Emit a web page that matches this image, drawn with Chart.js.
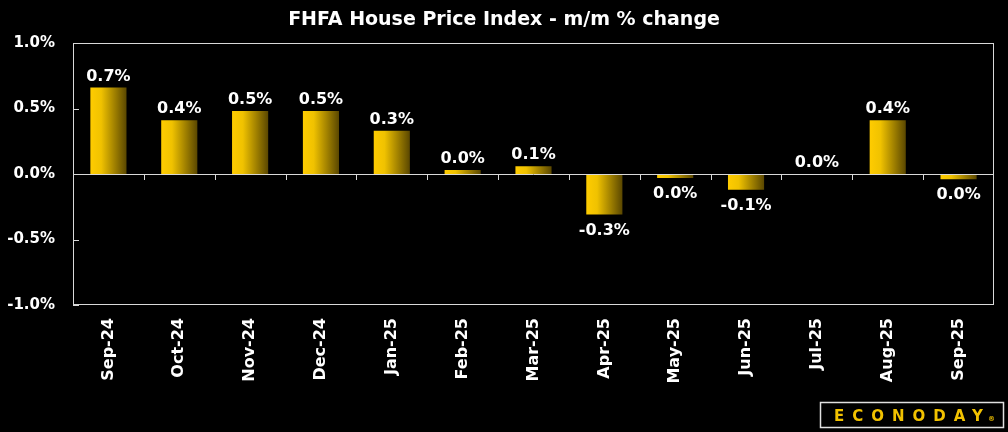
<!DOCTYPE html>
<html>
<head>
<meta charset="utf-8">
<script src="https://cdn.jsdelivr.net/npm/chart.js@4.4.1/dist/chart.umd.min.js"></script>
<style>
  html, body { margin: 0; padding: 0; background: #000; }
  #wrap { width: 1008px; height: 432px; }
</style>
</head>
<body>
<div id="wrap"><canvas id="chart" width="1008" height="432"></canvas></div>
<script>
const categories = ["Sep-24","Oct-24","Nov-24","Dec-24","Jan-25","Feb-25","Mar-25","Apr-25","May-25","Jun-25","Jul-25","Aug-25","Sep-25"];
const changes = [0.66, 0.41, 0.48, 0.48, 0.33, 0.03, 0.06, -0.31, -0.03, -0.12, 0.0, 0.41, -0.04];
const yTicks = [-1.0, -0.5, 0.0, 0.5, 1.0];
const title = "FHFA House Price Index - m/m % change";

const FONT = "'DejaVu Sans', sans-serif";

function pct(v){
  const s = v.toFixed(1);
  return (s === "-0.0" ? "0.0" : s) + "%";
}

// per-bar horizontal gold gradient, labels, inner tick marks, title, logo
const decor = {
  id: "decor",
  beforeDatasetsDraw(chart){
    const ctx = chart.ctx;
    chart.getDatasetMeta(0).data.forEach(bar => {
      const l = bar.x - bar.width/2, r = bar.x + bar.width/2;
      const g = ctx.createLinearGradient(l, 0, r, 0);
      g.addColorStop(0, "#ffcc00");
      g.addColorStop(0.3, "#f0c200");
      g.addColorStop(1, "#5a4700");
      bar.options.backgroundColor = g;
    });
  },
  afterDatasetsDraw(chart){
    const ctx = chart.ctx;
    const a = chart.chartArea;
    const x = chart.scales.x, y = chart.scales.y;
    const zero = y.getPixelForValue(0);
    ctx.save();
    // box + zero line
    ctx.strokeStyle = "#d9d9d9";
    ctx.lineWidth = 1;
    ctx.strokeRect(a.left + 0.5, a.top + 0.5, a.right - a.left - 1, a.bottom - a.top - 1);
    ctx.beginPath();
    ctx.moveTo(a.left, Math.round(zero) + 0.5);
    ctx.lineTo(a.right, Math.round(zero) + 0.5);
    // y tick marks inside plot
    yTicks.forEach(v => {
      const py = Math.round(y.getPixelForValue(v)) + 0.5;
      ctx.moveTo(a.left, py); ctx.lineTo(a.left + 6, py);
    });
    // category boundary ticks below zero line
    for (let i = 0; i < categories.length - 1; i++){
      const px = Math.round((x.getPixelForTick(i) + x.getPixelForTick(i+1)) / 2) + 0.5;
      ctx.moveTo(px, zero); ctx.lineTo(px, zero + 6);
    }
    ctx.stroke();

    // value labels
    ctx.fillStyle = "#ffffff";
    ctx.font = "bold 16px " + FONT;
    ctx.textAlign = "center";
    ctx.textBaseline = "alphabetic";
    chart.getDatasetMeta(0).data.forEach((bar, i) => {
      const v = changes[i];
      const ty = v >= 0 ? Math.min(bar.y, zero) - 7 : Math.max(bar.y, zero) + 20;
      ctx.fillText(pct(v), bar.x, ty);
    });

    // title
    ctx.font = "bold 19px " + FONT;
    ctx.fillText(title, chart.width / 2, 25);

    // logo
    ctx.strokeStyle = "#e0e0e0";
    ctx.lineWidth = 1.5;
    ctx.strokeRect(820.5, 402.5, 183, 25);
    ctx.fillStyle = "#f2c200";
    ctx.font = "bold 15px " + FONT;
    ctx.textAlign = "left";
    ctx.letterSpacing = "8px";
    ctx.fillText("ECONODAY", 834, 421);
    ctx.letterSpacing = "0px";
    ctx.font = "bold 7px " + FONT;
    ctx.fillText("®", 988, 421);
    ctx.restore();
  }
};

new Chart(document.getElementById("chart"), {
  type: "bar",
  data: {
    labels: categories,
    datasets: [{
      data: changes,
      backgroundColor: () => "#ffcc00",
      borderWidth: 0,
      barPercentage: 0.51,
      categoryPercentage: 1.0
    }]
  },
  options: {
    responsive: false,
    animation: false,
    layout: { padding: { top: 43, right: 14, left: 0, bottom: 0 } },
    plugins: { legend: { display: false }, title: { display: false }, tooltip: { enabled: false } },
    scales: {
      x: {
        grid: { display: false, drawTicks: false },
        border: { display: false },
        ticks: {
          color: "#ffffff", font: { family: FONT, size: 16, weight: "bold" },
          maxRotation: 90, minRotation: 90, padding: 13, autoSkip: false
        },
        afterFit(s){ s.height = 127; }
      },
      y: {
        min: -1, max: 1,
        grid: { display: false, drawTicks: false },
        border: { display: false },
        ticks: {
          stepSize: 0.5, color: "#ffffff", padding: 18,
          font: { family: FONT, size: 15, weight: "bold" },
          callback: v => v.toFixed(1) + "%"
        },
        afterFit(s){ s.width = 73; }
      }
    }
  },
  plugins: [decor]
});
</script>
</body>
</html>
